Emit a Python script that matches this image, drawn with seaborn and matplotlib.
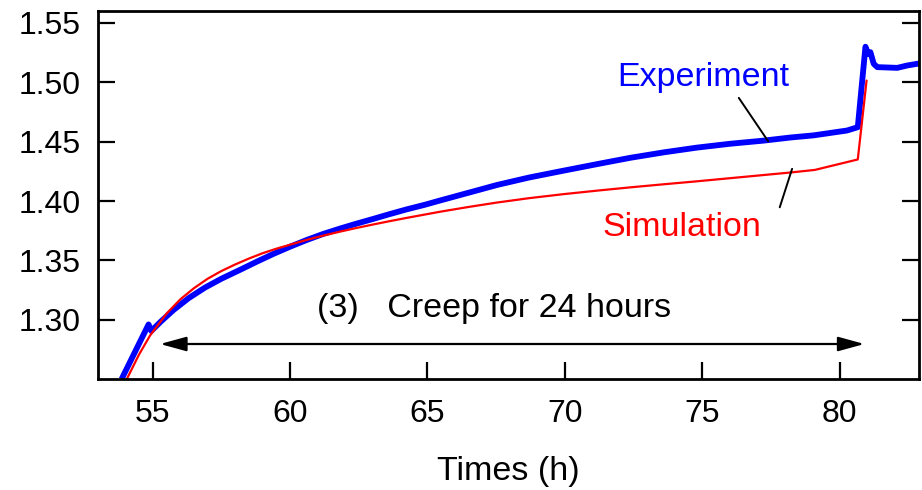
import numpy as np
import pandas as pd
import matplotlib
matplotlib.use("Agg")
import matplotlib.pyplot as plt
import seaborn as sns

# ---- data ----
exp_t = [53.87, 54.85, 54.95, 55.30, 55.75, 56.30, 56.90, 57.50, 58.18, 58.80,
         59.40, 60.00, 60.61, 61.20, 61.82, 62.40, 63.04, 63.60, 64.25, 64.90,
         65.47, 66.50, 67.53, 68.70, 69.96, 71.20, 72.38, 73.60, 74.81, 76.00,
         77.24, 78.21, 79.05, 80.27, 80.66, 80.94, 81.03, 81.12, 81.24, 81.37,
         82.10, 82.46, 82.95]
exp_v = [1.2500, 1.2960, 1.2905, 1.2985, 1.3080, 1.3180, 1.3270, 1.3345, 1.3420, 1.3490,
         1.3555, 1.3615, 1.3672, 1.3722, 1.3768, 1.3808, 1.3850, 1.3888, 1.3930, 1.3968,
         1.4005, 1.4070, 1.4135, 1.4198, 1.4256, 1.4312, 1.4364, 1.4410, 1.4450, 1.4482,
         1.4509, 1.4535, 1.4553, 1.4594, 1.4622, 1.5300, 1.5240, 1.5254, 1.5156, 1.5128,
         1.5122, 1.5142, 1.5161]

sim_t = [54.06, 54.50, 54.90, 55.50, 56.00, 56.50, 57.00, 57.50, 58.00, 58.50,
         59.00, 59.50, 60.00, 60.60, 61.20, 61.82, 62.40, 63.04, 63.60, 64.25,
         65.47, 66.50, 67.53, 68.70, 69.96, 71.20, 72.38, 73.60, 74.81, 76.00,
         77.24, 78.20, 79.10, 80.66, 80.98]
sim_v = [1.2500, 1.2705, 1.2865, 1.3050, 1.3170, 1.3265, 1.3345, 1.3410, 1.3465, 1.3515,
         1.3560, 1.3598, 1.3632, 1.3672, 1.3708, 1.3742, 1.3772, 1.3803, 1.3829, 1.3858,
         1.3910, 1.3950, 1.3987, 1.4024, 1.4058, 1.4088, 1.4115, 1.4141, 1.4166, 1.4192,
         1.4219, 1.4240, 1.4262, 1.4350, 1.5015]

x_ticks = [55, 60, 65, 70, 75, 80]
y_ticks = [1.30, 1.35, 1.40, 1.45, 1.50, 1.55]
y_tick_labels = ["1.30", "1.35", "1.40", "1.45", "1.50", "1.55"]

x_label = "Times (h)"
note_text = "(3)   Creep for 24 hours"
exp_label = "Experiment"
sim_label = "Simulation"

# ---- plotting ----
sns.set_theme(style="ticks")
plt.rcParams["font.family"] = ["Liberation Sans", "DejaVu Sans"]

fig = plt.figure(figsize=(9.22, 4.90), dpi=100)
ax = fig.add_axes([0.106, 0.2265, 0.9971 - 0.106, 0.9773 - 0.2265])

df_exp = pd.DataFrame({"t": exp_t, "v": exp_v})
df_sim = pd.DataFrame({"t": sim_t, "v": sim_v})

sns.lineplot(data=df_exp, x="t", y="v", ax=ax, color="#0000ff", lw=4.2,
             sort=False, estimator=None, solid_joinstyle="round", solid_capstyle="butt")
sns.lineplot(data=df_sim, x="t", y="v", ax=ax, color="#ff0000", lw=1.6,
             sort=False, estimator=None)

ax.set_xlim(53.0, 82.9)
ax.set_ylim(1.25, 1.56)
ax.set_xticks(x_ticks)
ax.set_xticklabels([str(t) for t in x_ticks])
ax.set_yticks(y_ticks)
ax.set_yticklabels(y_tick_labels)

for s in ax.spines.values():
    s.set_linewidth(2.0)
    s.set_color("black")

ax.tick_params(axis="both", direction="in", length=12, width=1.6,
               labelsize=23, colors="black")
ax.tick_params(axis="y", right=True, pad=12.5)
ax.tick_params(axis="x", pad=14.5)

ax.set_xlabel(x_label, fontsize=24.5, labelpad=19, color="black")
ax.set_ylabel("")

# double-headed arrow
ax.annotate("", xy=(55.27, 1.2795), xytext=(80.9, 1.2795),
            arrowprops=dict(arrowstyle="<|-|>,head_length=0.8,head_width=0.22",
                            mutation_scale=20, lw=1.6, color="black",
                            shrinkA=0, shrinkB=0))
ax.text(67.43, 1.302, note_text, fontsize=24.5, ha="center", va="baseline", color="black")

# labels with leader lines
ax.text(75.04, 1.4973, exp_label, fontsize=24.5, ha="center", va="baseline", color="#0000ff")
ax.text(74.27, 1.3708, sim_label, fontsize=24.5, ha="center", va="baseline", color="#ff0000")
ax.annotate("", xy=(77.40, 1.4503), xytext=(76.33, 1.4869),
            arrowprops=dict(arrowstyle="-", lw=1.4, color="black", shrinkA=0, shrinkB=0))
ax.annotate("", xy=(78.27, 1.4271), xytext=(77.82, 1.3947),
            arrowprops=dict(arrowstyle="-", lw=1.4, color="black", shrinkA=0, shrinkB=0))

fig.savefig("out.png", dpi=100)
